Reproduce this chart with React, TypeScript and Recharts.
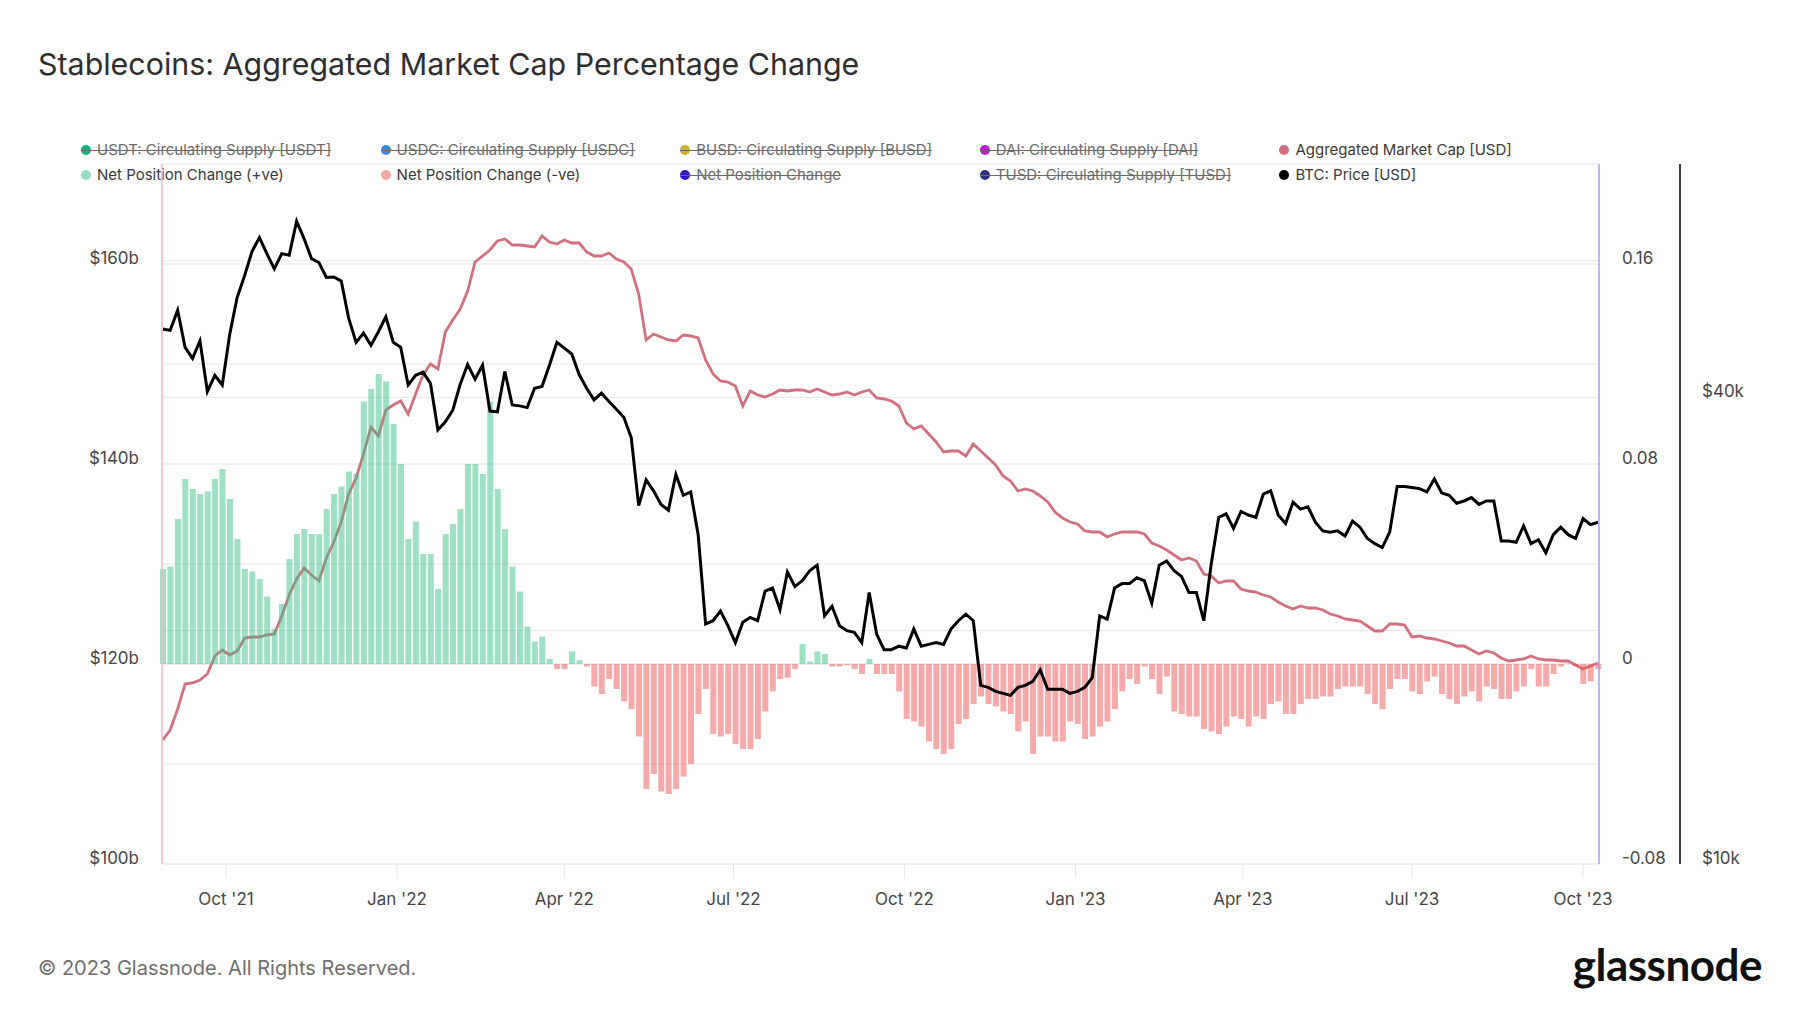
import React from "react";
import { Bar, ComposedChart, Line, ReferenceLine, XAxis, YAxis } from "recharts";

// glassnode-ish palette
const MCAP_PINK = "#d1707f";
const POS_GREEN = "#3dc18a";
const NEG_RED = "#ec5656";
const GRID = "#e6e6e6";
const TICK_TEXT = "#454545";
const FONT = "Inter, 'Open Sans', sans-serif";

// daily series sampled every 4 days from 28 Aug 2021
const START = Date.UTC(2021, 7, 28);
const STEP_DAYS = 4;
const DAY = 86400000;

// Aggregated Market Cap [USD], in $b
const marketCap = [
  112.4, 113.4, 115.5, 118.0, 118.1, 118.4, 119.0, 120.8, 121.4, 120.9,
  121.3, 122.6, 122.7, 122.7, 122.9, 123.0, 124.8, 126.9, 128.5, 129.6,
  128.9, 128.3, 130.6, 132.2, 134.2, 137.0, 138.6, 141.0, 143.7, 142.8,
  145.4, 145.9, 146.3, 145.0, 147.0, 148.9, 150.0, 149.5, 153.2, 154.4,
  155.5, 157.3, 160.2, 160.8, 161.4, 162.3, 162.5, 161.9, 161.9, 161.8,
  161.7, 162.8, 162.2, 162.0, 162.4, 162.1, 162.1, 161.2, 160.8, 160.8,
  161.1, 160.5, 160.2, 159.5, 157.0, 152.4, 153.0, 152.7, 152.4, 152.3,
  152.9, 152.8, 152.6, 150.4, 149.0, 148.3, 148.2, 147.8, 145.8, 147.3,
  146.9, 146.7, 147.0, 147.4, 147.3, 147.4, 147.4, 147.2, 147.5, 147.2,
  146.9, 147.0, 147.2, 146.9, 147.2, 147.4, 146.6, 146.5, 146.3, 145.8,
  144.1, 143.5, 143.8, 143.0, 142.2, 141.2, 141.3, 141.3, 140.8, 142.0,
  141.3, 140.6, 139.9, 138.8, 138.3, 137.3, 137.5, 137.3, 136.8, 136.2,
  135.2, 134.6, 134.2, 134.0, 133.3, 133.2, 133.2, 132.7, 133.0, 133.2,
  133.2, 133.2, 133.0, 132.1, 131.8, 131.4, 130.9, 130.4, 130.6, 130.3,
  129.0, 128.8, 128.1, 128.3, 128.3, 127.5, 127.3, 127.2, 126.9, 126.7,
  126.2, 125.8, 125.5, 125.8, 125.6, 125.6, 125.4, 125.0, 124.8, 124.5,
  124.4, 124.3, 123.8, 123.3, 123.3, 124.0, 124.0, 123.9, 122.7, 122.8,
  122.6, 122.5, 122.3, 122.1, 121.8, 121.8, 121.4, 121.0, 121.3, 121.1,
  120.6, 120.3, 120.4, 120.5, 120.8, 120.5, 120.4, 120.4, 120.3, 120.3,
  119.9, 119.5, 119.8, 120.1,
];

// Net Position Change (30d, fraction)
const netPositionChange = [
  0.038, 0.039, 0.058, 0.074, 0.07, 0.068, 0.069, 0.074, 0.078, 0.066,
  0.05, 0.038, 0.037, 0.034, 0.027, 0.014, 0.024, 0.042, 0.052, 0.054,
  0.052, 0.052, 0.062, 0.068, 0.071, 0.077, 0.076, 0.105, 0.11, 0.116,
  0.113, 0.096, 0.08, 0.05, 0.057, 0.044, 0.044, 0.03, 0.052, 0.056,
  0.062, 0.08, 0.08, 0.076, 0.105, 0.07, 0.054, 0.039, 0.029, 0.015,
  0.009, 0.011, 0.002, -0.002, -0.002, 0.005, 0.0015, -0.001, -0.009, -0.012,
  -0.006, -0.01, -0.015, -0.018, -0.029, -0.05, -0.044, -0.051, -0.052, -0.05,
  -0.045, -0.04, -0.02, -0.01, -0.028, -0.029, -0.028, -0.032, -0.034, -0.034,
  -0.03, -0.019, -0.011, -0.006, -0.0055, -0.002, 0.008, 0.001, 0.005, 0.004,
  -0.001, -0.001, -0.0005, -0.002, -0.004, 0.002, -0.004, -0.004, -0.004, -0.011,
  -0.022, -0.023, -0.025, -0.031, -0.034, -0.036, -0.034, -0.024, -0.022, -0.016,
  -0.013, -0.016, -0.017, -0.019, -0.02, -0.027, -0.023, -0.036, -0.029, -0.029,
  -0.031, -0.031, -0.023, -0.024, -0.03, -0.029, -0.025, -0.023, -0.018, -0.011,
  -0.006, -0.008, -0.001, -0.006, -0.012, -0.005, -0.019, -0.02, -0.021, -0.021,
  -0.026, -0.027, -0.028, -0.025, -0.021, -0.022, -0.025, -0.021, -0.022, -0.016,
  -0.015, -0.02, -0.02, -0.016, -0.014, -0.014, -0.013, -0.013, -0.01, -0.009,
  -0.009, -0.009, -0.012, -0.016, -0.018, -0.01, -0.006, -0.006, -0.011, -0.012,
  -0.007, -0.005, -0.012, -0.014, -0.016, -0.013, -0.011, -0.015, -0.009, -0.01,
  -0.014, -0.014, -0.011, -0.009, -0.002, -0.009, -0.009, -0.004, -0.001, 0.0002,
  -0.001, -0.008, -0.007, -0.002,
];

// BTC: Price [USD], in $k
const btcPrice = [
  49.0, 48.8, 51.8, 46.4, 44.9, 47.3, 40.7, 42.7, 41.5, 48.2,
  53.8, 57.4, 61.7, 64.3, 61.3, 58.6, 61.3, 61.0, 67.5, 64.1,
  60.4, 59.7, 57.1, 57.2, 56.5, 50.6, 47.1, 48.4, 46.7, 48.6,
  50.8, 47.1, 46.4, 41.5, 42.7, 43.1, 41.7, 36.3, 37.2, 38.5,
  41.6, 44.1, 42.2, 44.0, 38.4, 38.3, 43.2, 39.1, 39.0, 38.8,
  41.1, 41.3, 44.0, 47.1, 46.3, 45.5, 42.8, 41.1, 39.7, 40.5,
  39.5, 38.6, 37.7, 35.5, 29.0, 31.3, 30.3, 29.1, 28.6, 31.8,
  29.9, 30.2, 26.6, 20.4, 20.6, 21.2, 20.3, 19.3, 20.5, 20.8,
  20.6, 22.5, 22.7, 21.3, 23.8, 22.8, 23.2, 23.9, 24.3, 20.9,
  21.5, 20.3, 20.0, 19.9, 19.3, 22.4, 19.8, 18.9, 18.9, 19.1,
  19.0, 20.1, 19.1, 19.2, 19.3, 19.2, 20.1, 20.6, 21.0, 20.6,
  17.0, 16.9, 16.7, 16.6, 16.5, 16.9, 17.0, 17.2, 17.8, 16.8,
  16.8, 16.8, 16.6, 16.7, 16.9, 17.4, 20.9, 20.7, 22.7, 23.0,
  23.0, 23.4, 23.2, 21.7, 24.3, 24.6, 23.9, 23.5, 22.4, 22.4,
  20.6, 24.4, 28.0, 28.3, 27.1, 28.5, 28.2, 28.0, 30.0, 30.3,
  28.2, 27.5, 29.3, 28.7, 28.9, 27.6, 26.9, 26.8, 26.9, 26.5,
  27.7, 27.2, 26.3, 25.9, 25.6, 26.8, 30.7, 30.7, 30.6, 30.5,
  30.2, 31.4, 30.1, 29.9, 29.2, 29.4, 29.7, 29.1, 29.4, 29.4,
  26.1, 26.1, 26.0, 27.3, 25.9, 26.2, 25.2, 26.6, 27.2, 26.6,
  26.3, 27.9, 27.4, 27.6,
];

const xTicks = [
  "2021-10-01", "2022-01-01", "2022-04-01", "2022-07-01", "2022-10-01",
  "2023-01-01", "2023-04-01", "2023-07-01", "2023-10-01",
].map((d) => Date.parse(d));
const X_DOMAIN = [Date.UTC(2021, 7, 27, 14), Date.UTC(2023, 9, 9, 14)];

const capTicks = [100, 120, 140, 160];
const capGrid = [110, 120, 130, 140, 150, 160, 170];
const pctTicks = [-0.08, 0, 0.08, 0.16];
const btcTicks = [10000, 40000];
const btcGrid = [20000, 40000, 60000];

const legendItems = [
  { label: "USDT: Circulating Supply [USDT]", color: "#12b07c", off: true },
  { label: "USDC: Circulating Supply [USDC]", color: "#3d82f0", off: true },
  { label: "BUSD: Circulating Supply [BUSD]", color: "#c8b41e", off: true },
  { label: "DAI: Circulating Supply [DAI]", color: "#b81fc9", off: true },
  { label: "Aggregated Market Cap [USD]", color: MCAP_PINK, off: false },
  { label: "Net Position Change (+ve)", color: "#93dfc0", off: false },
  { label: "Net Position Change (-ve)", color: "#f5a8a8", off: false },
  { label: "Net Position Change", color: "#3318c4", off: true },
  { label: "TUSD: Circulating Supply [TUSD]", color: "#2e3380", off: true },
  { label: "BTC: Price [USD]", color: "#000", off: false },
];

const MONTHS = ["Jan", "Feb", "Mar", "Apr", "May", "Jun", "Jul", "Aug", "Sep", "Oct", "Nov", "Dec"];
const fmtMonth = (t: number) => {
  const d = new Date(t);
  return `${MONTHS[d.getUTCMonth()]} '${String(d.getUTCFullYear()).slice(2)}`;
};

const rows = marketCap.map((m, i) => {
  const npc = netPositionChange[i];
  return {
    t: START + i * STEP_DAYS * DAY,
    mcap: m,
    pos: npc > 0 ? npc : 0,
    neg: npc < 0 ? npc : 0,
    btc: btcPrice[i] * 1000,
  };
});

// axis labels sit a little above their gridline, like the glassnode renderer
function yTick(anchor: "start" | "end", fmt: (v: number) => string) {
  return (p: any) => (
    <text
      x={p.x}
      y={p.y - 6}
      textAnchor={anchor}
      dominantBaseline="central"
      fill={TICK_TEXT}
      fontSize={17}
      fontFamily={FONT}
    >
      {fmt(p.payload.value)}
    </text>
  );
}

const XTick = (p: any) => (
  <text
    x={p.x}
    y={p.y + 21}
    textAnchor="middle"
    dominantBaseline="central"
    fill={TICK_TEXT}
    fontSize={17}
    fontFamily={FONT}
  >
    {fmtMonth(p.payload.value)}
  </text>
);

function Legend() {
  return (
    <>
      {legendItems.map((it, i) => {
        const col = i % 5;
        const row = Math.floor(i / 5);
        return (
          <div
            key={it.label}
            style={{
              position: "absolute",
              left: 81 + col * 299.6,
              top: (row ? 174.5 : 149.5) - 10,
              height: 20,
              display: "flex",
              alignItems: "center",
              fontFamily: FONT,
              fontSize: 15,
              color: it.off ? "#6b6b6b" : "#3a3a3a",
              whiteSpace: "nowrap",
            }}
          >
            <span
              style={{
                width: 10,
                height: 10,
                borderRadius: 5,
                background: it.color,
                marginRight: 6,
              }}
            />
            <span>{it.label}</span>
            {it.off && (
              <span
                style={{
                  position: "absolute",
                  left: 0,
                  right: 0,
                  top: 10,
                  height: 1,
                  background: "#6b6b6b",
                }}
              />
            )}
          </div>
        );
      })}
    </>
  );
}

export default function App() {
  return (
    <div
      style={{
        position: "absolute",
        left: 0,
        top: 0,
        width: 1800,
        height: 1013,
        background: "#fff",
        overflow: "hidden",
      }}
    >
      <div
        style={{
          position: "absolute",
          left: 38,
          top: 49,
          fontFamily: FONT,
          fontSize: 30.4,
          lineHeight: "31px",
          fontWeight: 400,
          color: "#2e2e2e",
        }}
      >
        Stablecoins: Aggregated Market Cap Percentage Change
      </div>

      <Legend />

      <div style={{ position: "absolute", left: 0, top: 0 }}>
        <ComposedChart
          width={1800}
          height={1013}
          data={rows}
          margin={{ top: 164, right: 40, bottom: 109, left: 62 }}
        >
          {capGrid.map((v) => (
            <ReferenceLine key={`c${v}`} yAxisId="cap" y={v} stroke={GRID} strokeWidth={1} zIndex={-50} />
          ))}
          <ReferenceLine yAxisId="npc" y={0} stroke={GRID} strokeWidth={1} zIndex={-50} />
          {btcGrid.map((v) => (
            <ReferenceLine key={`b${v}`} yAxisId="price" y={v} stroke={GRID} strokeWidth={1} zIndex={-50} />
          ))}

          <XAxis
            dataKey="t"
            type="number"
            scale="time"
            domain={X_DOMAIN}
            ticks={xTicks}
            height={40}
            tickSize={14}
            tickMargin={0}
            tickLine={{ stroke: "#e8e8e8" }}
            axisLine={{ stroke: "#dcdcdc" }}
            tick={XTick}
          />
          <YAxis
            yAxisId="cap"
            orientation="left"
            width={100}
            domain={[100, 170]}
            ticks={capTicks}
            tickLine={false}
            tickSize={0}
            tickMargin={23}
            axisLine={{ stroke: "#f0b7c1", strokeWidth: 1.5 }}
            tick={yTick("end", (v) => `$${v}b`)}
          />
          <YAxis
            yAxisId="npc"
            orientation="right"
            width={81}
            domain={[-0.08, 0.2]}
            ticks={pctTicks}
            tickLine={false}
            tickSize={0}
            tickMargin={23}
            axisLine={{ stroke: "#a99ef0", strokeWidth: 1.5 }}
            tick={yTick("start", (v) => (v === 0 ? "0" : v.toFixed(2)))}
          />
          <YAxis
            yAxisId="price"
            orientation="right"
            width={80}
            scale="log"
            domain={[10000, 80000]}
            ticks={btcTicks}
            allowDataOverflow
            tickLine={false}
            tickSize={0}
            tickMargin={22}
            axisLine={{ stroke: "#000", strokeWidth: 1.5 }}
            tick={yTick("start", (v) => `$${v / 1000}k`)}
          />

          {/* market cap sits under the translucent bars, so it greys out where they overlap */}
          <Line
            yAxisId="cap"
            dataKey="mcap"
            type="linear"
            stroke={MCAP_PINK}
            strokeWidth={2.8}
            dot={false}
            isAnimationActive={false}
            zIndex={250}
          />
          <Bar
            yAxisId="npc"
            dataKey="pos"
            stackId="npc"
            fill={POS_GREEN}
            fillOpacity={0.5}
            barSize={6}
            isAnimationActive={false}
          />
          <Bar
            yAxisId="npc"
            dataKey="neg"
            stackId="npc"
            fill={NEG_RED}
            fillOpacity={0.5}
            barSize={6}
            isAnimationActive={false}
          />
          <Line
            yAxisId="price"
            dataKey="btc"
            type="linear"
            stroke="#000"
            strokeWidth={3}
            dot={false}
            isAnimationActive={false}
          />
        </ComposedChart>
      </div>

      <div
        style={{
          position: "absolute",
          left: 38,
          top: 956,
          fontFamily: FONT,
          fontSize: 20,
          lineHeight: "24px",
          color: "#6e6e6e",
        }}
      >
        © 2023 Glassnode. All Rights Reserved.
      </div>
      <div
        style={{
          position: "absolute",
          right: 38,
          top: 939,
          fontFamily: "Lato, sans-serif",
          fontSize: 44,
          lineHeight: "50px",
          fontWeight: 700,
          letterSpacing: -0.5,
          color: "#111",
        }}
      >
        glassnode
      </div>
    </div>
  );
}
